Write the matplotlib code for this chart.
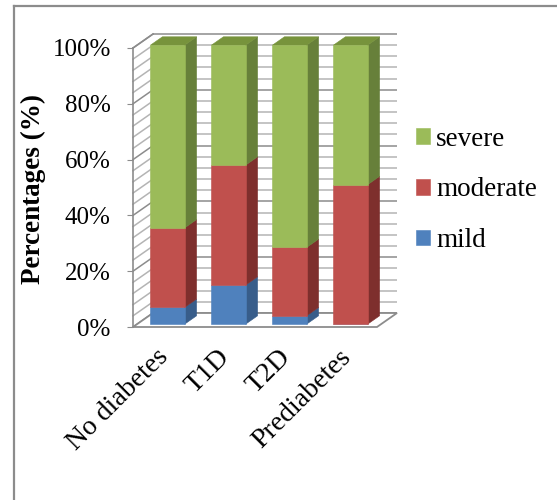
import matplotlib.pyplot as plt
from matplotlib.patches import Polygon

plt.rcParams['font.family'] = ['Liberation Serif', 'DejaVu Serif']

groups = ['No diabetes', 'T1D', 'T2D', 'Prediabetes']
mild = [6.0, 14.0, 3.0, 0.0]
moderate = [28.5, 43.0, 24.5, 50.0]
severe = [65.5, 43.0, 72.5, 50.0]

# (label, values, front colour, side colour)
series = [
    ('mild', mild, '#4F81BD', '#385D8A'),
    ('moderate', moderate, '#C0504D', '#7E2F2D'),
    ('severe', severe, '#9BBB59', '#67803A'),
]
top_colour = '#77933C'

W, H = 557, 500
fig = plt.figure(figsize=(W / 100, H / 100), dpi=100)
ax = fig.add_axes([133 / W, 1 - 327 / H, 244 / W, 279 / H])
ax.set_xlim(-0.5, 3.5)
ax.set_ylim(0, 100)

# depth of the box in data units (20 px right, 14 px up)
DX = 20 / 61
DY = 14 * 100 / 279
d0, d1 = 0.2, 0.8
bw = 0.56

grid_major = '#8C8C8C'
grid_minor = '#B4B4B4'

# back wall and left wall grid
for v in range(0, 101, 4):
    c = grid_major if v % 20 == 0 else grid_minor
    ax.plot([-0.5 + DX, 3.5 + DX], [v + DY, v + DY], color=c, lw=1.1,
            zorder=1, clip_on=False, solid_capstyle='butt')
    ax.plot([-0.5, -0.5 + DX], [v, v + DY], color=c, lw=1.1,
            zorder=1, clip_on=False)

# floor
floor = Polygon([(-0.5, 0), (3.5, 0), (3.5 + DX, DY), (-0.5 + DX, DY)],
                closed=True, facecolor='white', edgecolor=grid_major,
                lw=1.3, zorder=1.5, clip_on=False)
ax.add_patch(floor)
ax.plot([-0.5, -0.5 + DX], [100, 100 + DY], color=grid_major, lw=1.1,
        zorder=1, clip_on=False)


def face(pts, colour):
    ax.add_patch(Polygon(pts, closed=True, facecolor=colour,
                         edgecolor=colour, lw=0.4, zorder=3,
                         clip_on=False))


# stacked 3-d bars
bottoms = [0.0] * len(groups)
handles = []
for name, vals, front, side in series:
    xs = [i + d0 * DX for i in range(len(groups))]
    bars = ax.bar(xs, vals, width=bw, bottom=[b + d0 * DY for b in bottoms],
                  color=front, edgecolor=front, linewidth=0.4, zorder=3.1,
                  label=name)
    for p in bars:
        p.set_clip_on(False)
    handles.append(bars)
    for i, (v, b) in enumerate(zip(vals, bottoms)):
        if v <= 0:
            continue
        xr = i + bw / 2 + d0 * DX
        face([(xr, b + d0 * DY),
              (xr + (d1 - d0) * DX, b + d1 * DY),
              (xr + (d1 - d0) * DX, b + v + d1 * DY),
              (xr, b + v + d0 * DY)], side)
    bottoms = [b + v for b, v in zip(bottoms, vals)]

# top faces
for i, t in enumerate(bottoms):
    xl = i - bw / 2 + d0 * DX
    xr = i + bw / 2 + d0 * DX
    face([(xl, t + d0 * DY), (xr, t + d0 * DY),
          (xr + (d1 - d0) * DX, t + d1 * DY),
          (xl + (d1 - d0) * DX, t + d1 * DY)], top_colour)

# axes
for s in ['top', 'right', 'bottom']:
    ax.spines[s].set_visible(False)
ax.spines['left'].set_color(grid_major)
ax.spines['left'].set_linewidth(1.2)
ax.set_yticks(range(0, 101, 20))
ax.set_yticklabels([f'{v}%' for v in range(0, 101, 20)], fontsize=18)
ax.tick_params(axis='y', length=4, color=grid_major, pad=12)
ax.set_xticks([])

for i, g in enumerate(groups):
    ax.text(i + 0.02, -9.5, g, rotation=45, ha='right', va='center',
            rotation_mode='anchor', fontsize=20)

fig.text(33 / W, 1 - 189 / H, 'Percentages (%)', rotation=90,
         ha='center', va='center', fontsize=19.5, fontweight='bold')

ax.legend(handles[::-1], [s[0] for s in series][::-1],
          loc='center left', bbox_to_anchor=(416 / W, 1 - 190 / H),
          bbox_transform=fig.transFigure, frameon=False, fontsize=19.5,
          handlelength=0.5, handleheight=0.5, handletextpad=0.25,
          labelspacing=0.95, borderpad=0, borderaxespad=0)

# chart frame
fig.add_artist(plt.Line2D([14 / W, 14 / W], [0, 1 - 6 / H],
                          color='#8C8C8C', lw=1.6))
fig.add_artist(plt.Line2D([14 / W, 1], [1 - 6 / H, 1 - 6 / H],
                          color='#8C8C8C', lw=1.6))

fig.savefig('out.png', dpi=100)
